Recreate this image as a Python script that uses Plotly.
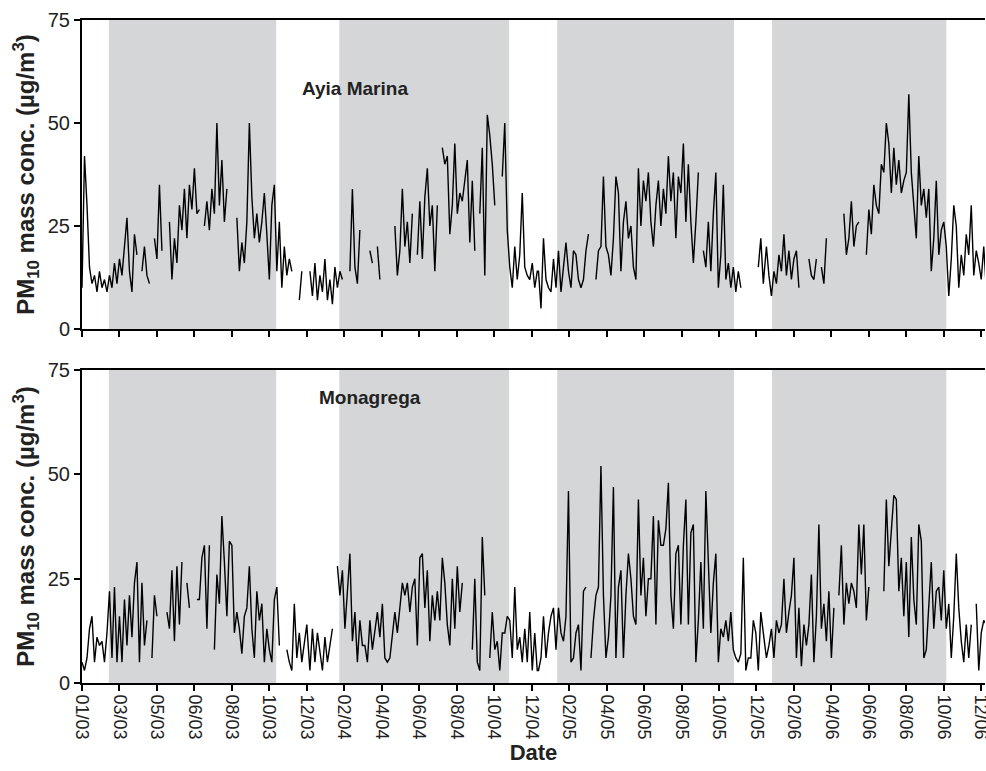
import pandas as pd
import plotly.graph_objects as go
from plotly.subplots import make_subplots

N = None
# PM10 (ug/m3), 4-day steps starting 1 Jan of each year
ayia_2003 = [10,42,30,15,11,13,9,14,10,12,9,13,10,16,11,17,13,21,27,14,9,23,18,N,14,20,13,11,N,22,17,35,19,N,N,26,12,22,16,30,
             24,34,22,35,29,39,28,29,N,25,31,24,34,28,50,30,41,26,34,N,N,N,27,14,21,16,26,50,32,22,28,21,26,33,23,12,30,35,14,26,
             10,20,13,17,14,N,N,7,14,N,N,N]
ayia_2004 = [14,8,16,7,13,9,17,7,12,6,15,10,14,12,N,N,14,34,15,11,24,N,N,N,19,16,N,20,12,N,N,N,N,N,25,13,19,34,20,26,
             16,28,N,18,31,17,32,39,25,30,14,30,N,44,40,42,23,30,45,28,33,31,36,41,21,36,19,N,28,44,13,52,47,40,30,N,N,37,50,24,
             15,10,20,12,18,33,15,13,12,16,10,14]
ayia_2005 = [14,5,22,12,10,9,17,10,19,9,15,21,14,10,19,18,12,10,12,19,23,N,N,12,19,20,37,20,18,13,22,37,33,14,26,31,22,25,15,12,
             39,25,36,31,38,26,20,30,36,25,34,28,42,31,38,22,37,33,45,26,40,26,16,26,38,N,19,15,26,14,28,38,10,18,35,12,16,10,15,9,
             14,10,N,N,N,N,N,N,15,22,11,20]
ayia_2006 = [20,13,8,14,11,18,14,23,13,19,12,17,19,10,N,N,N,17,13,12,17,N,15,11,22,N,N,N,N,N,N,28,18,22,31,20,25,26,N,N,
             18,29,23,35,30,28,40,38,50,45,33,44,35,41,33,36,38,57,38,31,22,42,30,34,27,34,14,22,36,18,24,26,20,8,17,30,25,10,18,13,
             23,18,30,13,19,16,12,20,10]

mona_2003 = [5,3,6,13,16,5,11,9,10,5,12,22,6,23,5,16,5,20,9,21,11,24,29,5,24,9,15,N,6,21,16,N,N,N,17,13,27,10,28,14,
             29,N,24,18,N,N,20,20,30,33,13,33,N,8,26,19,40,29,16,34,33,12,17,13,7,16,18,28,13,6,22,15,19,5,13,8,5,20,23,9,
             N,N,8,5,3,19,6,12,5,10,14,5]
mona_2004 = [3,13,5,12,8,3,11,5,9,13,N,28,21,27,13,22,31,10,17,5,15,9,9,5,15,8,12,17,11,19,6,5,6,12,17,12,19,24,21,24,
             17,23,25,9,30,31,18,27,10,21,15,22,15,30,24,14,9,25,13,28,17,24,N,N,N,8,25,5,3,35,21,N,6,17,8,10,3,12,12,16,
             15,6,23,8,11,5,13,5,17,3,12,3]
mona_2005 = [3,6,16,6,12,16,18,8,18,12,10,16,46,5,6,12,14,3,22,23,N,6,15,21,23,52,21,6,11,21,47,6,23,27,6,21,31,25,16,14,
             44,21,30,16,25,25,40,14,39,33,33,37,48,21,13,31,33,14,33,44,14,36,38,5,15,29,13,46,29,12,24,31,5,13,11,15,10,17,8,6,
             5,7,30,3,6,6,15,12,3,17,12,6]
mona_2006 = [6,9,13,6,15,12,14,25,12,17,21,30,6,18,4,14,9,14,26,5,16,38,13,19,10,22,6,18,N,21,33,14,24,19,24,22,18,38,26,38,
             15,23,N,N,N,N,N,22,44,28,36,45,44,22,30,16,29,11,35,20,14,38,34,6,8,20,29,13,22,23,15,27,13,19,6,16,31,18,10,5,
             14,6,14,N,19,3,12,15,14]

years = [2003, 2004, 2005, 2006]
ayia_years = [ayia_2003, ayia_2004, ayia_2005, ayia_2006]
mona_years = [mona_2003, mona_2004, mona_2005, mona_2006]

# Shaded warm-season periods (start, end)
season_starts = ["2003-02-13", "2004-02-17", "2005-01-31", "2006-01-10"]
season_ends = ["2003-11-08", "2004-11-15", "2005-11-10", "2006-10-16"]

tick_labels = ["01/03", "03/03", "05/03", "06/03", "08/03", "10/03", "12/03", "02/04", "04/04",
               "06/04", "08/04", "10/04", "12/04", "02/05", "04/05", "06/05", "08/05", "10/05",
               "12/05", "02/06", "04/06", "06/06", "08/06", "10/06", "12/06"]
tick_dates = list(pd.date_range("2003-01-01", periods=len(tick_labels), freq="60D"))


def series(parts):
    xs, ys = [], []
    for yr, vals in zip(years, parts):
        xs += list(pd.date_range(f"{yr}-01-01", periods=len(vals), freq="4D"))
        ys += vals
    return xs, ys


FONT = "Liberation Sans, Arial, sans-serif"
fig = make_subplots(rows=2, cols=1, shared_xaxes=False, vertical_spacing=0.062)

for row, parts in ((1, ayia_years), (2, mona_years)):
    xs, ys = series(parts)
    fig.add_trace(go.Scatter(x=xs, y=ys, mode="lines", connectgaps=False,
                             line=dict(color="black", width=1.4), showlegend=False),
                  row=row, col=1)

for ref_y in ("y domain", "y2 domain"):
    xr = "x" if ref_y == "y domain" else "x2"
    for s, e in zip(season_starts, season_ends):
        fig.add_shape(type="rect", xref=xr, yref=ref_y, x0=s, x1=e, y0=0, y1=1,
                      fillcolor="#d5d6d8", line_width=0, layer="below")

x_range = ["2003-01-01", "2006-12-17"]
common_x = dict(range=x_range, tickvals=tick_dates, ticktext=tick_labels, tickangle=90,
                ticks="outside", ticklen=6, tickwidth=1.5, tickcolor="black",
                showline=True, linecolor="black", linewidth=2, mirror=True,
                showgrid=False, zeroline=False, ticklabeloverflow="allow", automargin=False,
                tickfont=dict(family=FONT, size=18, color="#222"))
fig.update_xaxes(**common_x)
fig.update_xaxes(showticklabels=False, row=1, col=1)
fig.update_xaxes(title=dict(text="<b>Date</b>", font=dict(family=FONT, size=22, color="#222"),
                            standoff=6), row=2, col=1)

ytitle = "<b>PM<sub>10</sub> mass conc. (µg/m<sup>3</sup>)</b>"
fig.update_yaxes(range=[0, 75], tickvals=[0, 25, 50, 75], ticks="outside", ticklen=6,
                 tickwidth=1.5, tickcolor="black", showline=True, linecolor="black",
                 linewidth=2, showgrid=False, zeroline=False, automargin=False,
                 tickfont=dict(family=FONT, size=20, color="#222"),
                 title=dict(text=ytitle, font=dict(family=FONT, size=24, color="#222"), standoff=6))

fig.update_layout(
    width=986, height=771,
    margin=dict(l=82, r=1, t=20, b=88),
    plot_bgcolor="white", paper_bgcolor="white",
    font=dict(family=FONT, color="#222"),
    annotations=[
        dict(text="<b>Ayia Marina</b>", xref="paper", yref="paper", x=0.302, y=0.897,
             xanchor="center", yanchor="middle",
             showarrow=False, font=dict(family=FONT, size=19, color="#222")),
        dict(text="<b>Monagrega</b>", xref="paper", yref="paper", x=0.319, y=0.431,
             xanchor="center", yanchor="middle",
             showarrow=False, font=dict(family=FONT, size=19, color="#222")),
    ],
)
fig.update_yaxes(domain=[0.534, 1.0], row=1, col=1)
fig.update_yaxes(domain=[0.0, 0.472], row=2, col=1)

fig.write_html("out.html")
